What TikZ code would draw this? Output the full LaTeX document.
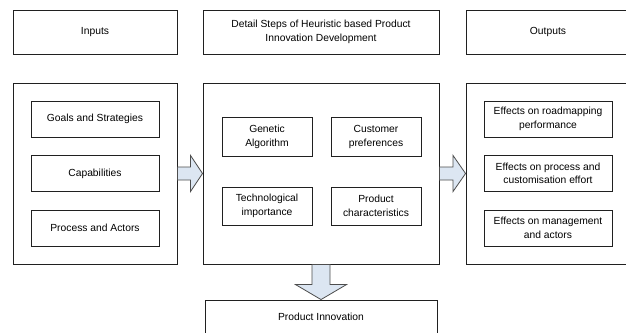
\documentclass[tikz,border=0pt]{standalone}
\usepackage{fontspec}
\setmainfont{Liberation Sans}
\usetikzlibrary{calc}
\definecolor{linec}{HTML}{202020}
\definecolor{arrowfill}{HTML}{DCE6F2}
\begin{document}
\begin{tikzpicture}[x=1pt,y=-1pt,
  box/.style={draw=linec, line width=0.9pt, rectangle, inner sep=0pt, align=center,
    font=\fontsize{10.3}{13.5}\selectfont},
  barrow/.style={draw=linec!80, line width=0.8pt, fill=arrowfill, line join=miter}]
\useasboundingbox (0,0) rectangle (626,332);
\clip (0,0) rectangle (626,332);
% headers
\node[box, minimum width=164pt, minimum height=44pt] (hin) at (95,32) {Inputs};
\node[box, minimum width=236pt, minimum height=44pt] (hmid) at (321,32) {Detail Steps of Heuristic based Product\\Innovation Development};
\node[box, minimum width=164pt, minimum height=44pt] (hout) at (548,32) {Outputs};
% big boxes
\node[box, minimum width=164pt, minimum height=181pt] (L) at (95,173.5) {};
\node[box, minimum width=236pt, minimum height=181pt] (M) at (321,173.5) {};
\node[box, minimum width=164pt, minimum height=181pt] (R) at (548,173.5) {};
% left inner
\node[box, minimum width=128pt, minimum height=36pt] (g) at (95,119) {Goals and Strategies};
\node[box, minimum width=128pt, minimum height=36pt] (c) at (95,173.5) {Capabilities};
\node[box, minimum width=128pt, minimum height=36pt] (p) at (95,228) {Process and Actors};
% middle inner
\node[box, minimum width=90pt, minimum height=39pt] (ga) at (267,137) {Genetic\\Algorithm};
\node[box, minimum width=90pt, minimum height=39pt] (cp) at (376,137) {Customer\\preferences};
\node[box, minimum width=90pt, minimum height=38pt] (ti) at (267,206) {Technological\\importance};
\node[box, minimum width=90pt, minimum height=38pt] (pc) at (376,206) {Product\\characteristics};
% right inner
\node[box, minimum width=128pt, minimum height=36pt] (e1) at (548,119) {Effects on roadmapping\\performance};
\node[box, minimum width=128pt, minimum height=36pt] (e2) at (548,173.5) {Effects on process and\\customisation effort};
\node[box, minimum width=128pt, minimum height=36pt] (e3) at (548,228) {Effects on management\\and actors};
% bottom
\node[box, minimum width=232pt, minimum height=34pt] (pi) at (321,317) {Product Innovation};
% block arrows
\draw[barrow] ($(L.east)+(0,6.5pt)$) -- ($(M.west)+(-12pt,6.5pt)$) -- ($(M.west)+(-12pt,18pt)$)
  -- (M.west) -- ($(M.west)+(-12pt,-18pt)$) -- ($(M.west)+(-12pt,-6.5pt)$) -- ($(L.east)+(0,-6.5pt)$) -- cycle;
\draw[barrow] ($(M.east)+(0,6.5pt)$) -- ($(R.west)+(-12.5pt,6.5pt)$) -- ($(R.west)+(-12.5pt,18pt)$)
  -- (R.west) -- ($(R.west)+(-12.5pt,-18pt)$) -- ($(R.west)+(-12.5pt,-6.5pt)$) -- ($(M.east)+(0,-6.5pt)$) -- cycle;
\draw[barrow] ($(M.south)+(-9pt,0)$) -- ($(pi.north)+(-9pt,15pt)$) -- ($(pi.north)+(-25.5pt,15pt)$)
  -- (pi.north) -- ($(pi.north)+(25.5pt,15pt)$) -- ($(pi.north)+(9pt,15pt)$) -- ($(M.south)+(9pt,0)$) -- cycle;
\end{tikzpicture}
\end{document}
